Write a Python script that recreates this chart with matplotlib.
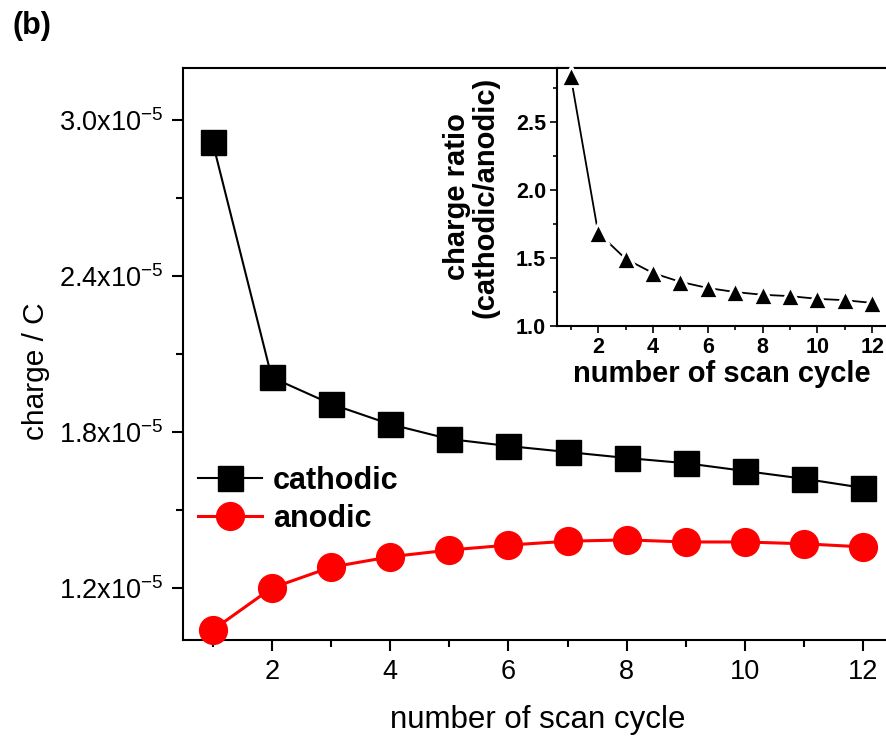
import matplotlib
matplotlib.use("Agg")
import matplotlib.pyplot as plt
from matplotlib.ticker import MultipleLocator, FuncFormatter

plt.rcParams['font.family'] = ['Liberation Sans', 'DejaVu Sans']
plt.rcParams['mathtext.fontset'] = 'custom'
plt.rcParams['mathtext.rm'] = 'Liberation Sans'

# Data: charge per scan cycle (units of 1e-5 C) and the cathodic/anodic ratio
cycles = [1, 2, 3, 4, 5, 6, 7, 8, 9, 10, 11, 12]
cathodic = [2.915, 2.01, 1.908, 1.83, 1.773, 1.746, 1.723, 1.70, 1.68, 1.65, 1.62, 1.585]
anodic = [1.038, 1.20, 1.28, 1.32, 1.346, 1.365, 1.38, 1.385, 1.377, 1.377, 1.37, 1.358]
ratio = [2.84, 1.687, 1.495, 1.39, 1.325, 1.28, 1.25, 1.23, 1.22, 1.20, 1.19, 1.17]

main_yticks = [1.2, 1.8, 2.4, 3.0]
inset_yticks = [1.0, 1.5, 2.0, 2.5]
xticks = [2, 4, 6, 8, 10, 12]

W, H = 886, 740
fig = plt.figure(figsize=(W / 100, H / 100), dpi=100)
fig.patch.set_facecolor('white')

# main axes (right side runs past the figure edge)
ax = fig.add_axes([183 / W, (H - 640) / H, (893 - 183) / W, (640 - 68) / H])
ax.plot(cycles, cathodic, color='black', lw=1.5, marker='s', ms=18,
        mfc='black', mec='black', mew=1, label='cathodic', clip_on=False, zorder=3)
ax.plot(cycles, anodic, color='red', lw=2.2, marker='o', ms=20,
        mfc='red', mec='red', mew=1, label='anodic', clip_on=False, zorder=3)
ax.set_xlim(0.5, 12.5)
ax.set_ylim(1.0, 3.2)
ax.set_xticks(xticks)
ax.xaxis.set_minor_locator(MultipleLocator(1))
ax.set_yticks(main_yticks)
ax.yaxis.set_minor_locator(MultipleLocator(0.3))
ax.yaxis.set_major_formatter(
    FuncFormatter(lambda v, p: r'$\mathregular{%.1fx10^{-5}}$' % v))
for s in ax.spines.values():
    s.set_linewidth(1.5)
ax.tick_params(which='both', direction='out', width=1.5, labelsize=19.5, pad=6)
ax.tick_params(which='major', length=8)
ax.tick_params(which='minor', length=5)
ax.set_xlabel('number of scan cycle', fontsize=22.5, labelpad=14)
ax.set_ylabel('charge / C', fontsize=21.5)
ax.yaxis.set_label_coords(-0.188, 0.47)

leg = ax.legend(loc='upper left', bbox_to_anchor=(0.021, 0.305), frameon=False,
                borderpad=0, borderaxespad=0, handlelength=2.1, handletextpad=0.35,
                labelspacing=0.28, prop={'weight': 'bold', 'size': 22})

# inset: charge ratio
ins = fig.add_axes([557 / W, (H - 326) / H, (886 - 557) / W, (326 - 68) / H])
ins.set_facecolor('white')
ins.plot(cycles, ratio, color='black', lw=1.3, marker='^', ms=15,
         mfc='black', mec='white', mew=2.0, clip_on=False, zorder=3)
ins.set_xlim(0.5, 12.5)
ins.set_ylim(1.0, 2.9)
ins.set_xticks(xticks)
ins.xaxis.set_minor_locator(MultipleLocator(1))
ins.set_yticks(inset_yticks)
ins.yaxis.set_minor_locator(MultipleLocator(0.25))
ins.yaxis.set_major_formatter(FuncFormatter(lambda v, p: '%.1f' % v))
for s in ins.spines.values():
    s.set_linewidth(1.5)
ins.spines['right'].set_visible(False)
ins.tick_params(which='both', direction='out', width=1.2, labelsize=15.5, pad=3)
ins.tick_params(which='major', length=5)
ins.tick_params(which='minor', length=3)
for lab in ins.get_xticklabels() + ins.get_yticklabels():
    lab.set_fontweight('bold')
ins.set_xlabel('number of scan cycle', fontsize=21, fontweight='bold', labelpad=1)
ins.set_ylabel('charge ratio\n(cathodic/anodic)', fontsize=21, fontweight='bold',
               labelpad=12, linespacing=1.0)

fig.text(12 / W, 1 - 26 / H, '(b)', fontsize=22, fontweight='bold', va='center', ha='left')

fig.savefig('out.png', dpi=100, facecolor='white')
